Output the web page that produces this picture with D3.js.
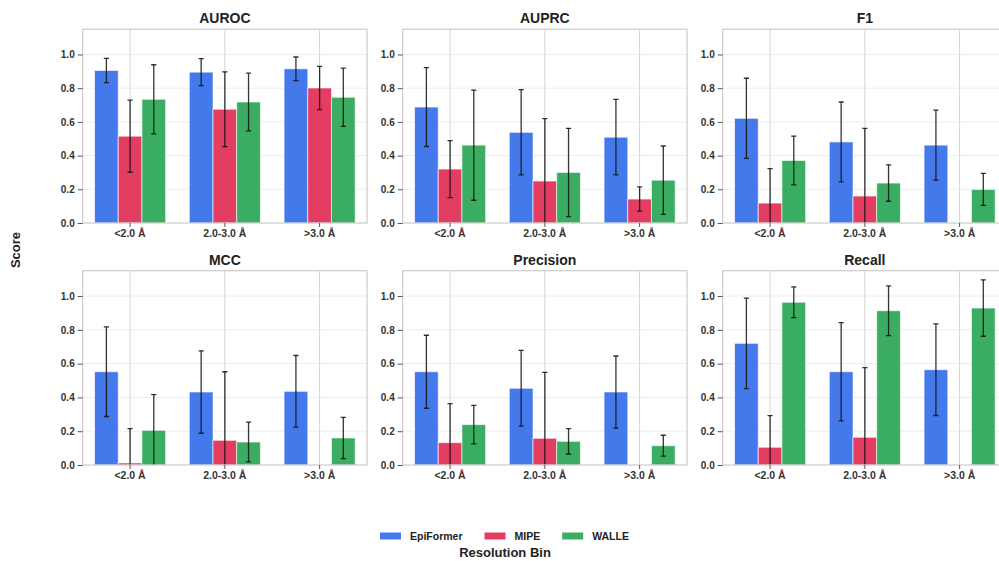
<!DOCTYPE html>
<html>
<head>
<meta charset="utf-8">
<script src="https://cdn.jsdelivr.net/npm/d3@7"></script>
<style>
  html, body { margin: 0; padding: 0; background: #fff; }
  svg { display: block; font-family: "Liberation Sans", Arial, Helvetica, sans-serif; }
</style>
</head>
<body>
<svg id="chart" width="999" height="561"></svg>
<script>
// Resolution bins and models
const bins = ["<2.0 Å", "2.0-3.0 Å", ">3.0 Å"];
const models = ["EpiFormer", "MIPE", "WALLE"];
const modelColors = ["#4479ec", "#e43d62", "#3aad62"];
const yTicks = [0.0, 0.2, 0.4, 0.6, 0.8, 1.0];

// Mean scores per model (rows) and resolution bin (columns), with standard deviations
const aurocMean = [[0.905, 0.895, 0.915], [0.515, 0.675, 0.801], [0.734, 0.718, 0.746]];
const aurocStd  = [[0.072, 0.080, 0.070], [0.214, 0.222, 0.128], [0.205, 0.171, 0.173]];

const auprcMean = [[0.688, 0.538, 0.509], [0.320, 0.249, 0.142], [0.462, 0.300, 0.254]];
const auprcStd  = [[0.234, 0.253, 0.224], [0.169, 0.370, 0.072], [0.327, 0.262, 0.203]];

const f1Mean = [[0.621, 0.481, 0.462], [0.118, 0.160, 0.0], [0.371, 0.237, 0.199]];
const f1Std  = [[0.238, 0.237, 0.208], [0.205, 0.402, 0.0], [0.145, 0.108, 0.095]];

const mccMean = [[0.552, 0.432, 0.436], [0.012, 0.146, 0.0], [0.205, 0.136, 0.160]];
const mccStd  = [[0.265, 0.244, 0.212], [0.203, 0.406, 0.0], [0.211, 0.118, 0.122]];

const precisionMean = [[0.552, 0.454, 0.432], [0.132, 0.158, 0.0], [0.239, 0.140, 0.114]];
const precisionStd  = [[0.216, 0.224, 0.213], [0.231, 0.390, 0.0], [0.114, 0.075, 0.062]];

const recallMean = [[0.720, 0.552, 0.564], [0.105, 0.164, 0.0], [0.963, 0.913, 0.929]];
const recallStd  = [[0.268, 0.291, 0.271], [0.187, 0.412, 0.0], [0.091, 0.147, 0.167]];

const panels = [
  { title: "AUROC", mean: aurocMean, std: aurocStd },
  { title: "AUPRC", mean: auprcMean, std: auprcStd },
  { title: "F1", mean: f1Mean, std: f1Std },
  { title: "MCC", mean: mccMean, std: mccStd },
  { title: "Precision", mean: precisionMean, std: precisionStd },
  { title: "Recall", mean: recallMean, std: recallStd }
];

const svg = d3.select("#chart");

// Panel grid geometry
const panelW = 284.3;
const colLeft = [82.7, 402.7, 722.7];
const rowTop = [29.2, 270.7];
const rowBottom = [223, 465];

const x = d3.scaleBand().domain(bins).range([0, panelW]).padding(0);
const step = x.bandwidth();
const xm = d3.scaleBand().domain(models).range([-0.375 * step, 0.375 * step]).padding(0);

const defs = svg.append("defs");

panels.forEach((p, i) => {
  const col = i % 3, row = Math.floor(i / 3);
  const h = rowBottom[row] - rowTop[row];
  const y = d3.scaleLinear().domain([0, 1.15]).range([h, 0]);

  const g = svg.append("g").attr("transform", `translate(${colLeft[col]},${rowTop[row]})`);

  const clipId = "clip" + i;
  defs.append("clipPath").attr("id", clipId)
    .append("rect").attr("x", 0).attr("y", 0).attr("width", panelW).attr("height", h);

  // horizontal grid
  g.append("g").selectAll("line").data(yTicks.filter(t => t > 0)).join("line")
    .attr("x1", 0).attr("x2", panelW)
    .attr("y1", d => y(d)).attr("y2", d => y(d))
    .attr("stroke", "#ededed").attr("stroke-width", 1);

  // vertical grid at bin centres
  g.append("g").selectAll("line").data(bins).join("line")
    .attr("x1", d => x(d) + step / 2).attr("x2", d => x(d) + step / 2)
    .attr("y1", 0).attr("y2", h)
    .attr("stroke", "#d4d4d4").attr("stroke-width", 1);

  // flatten into records
  const recs = [];
  models.forEach((m, mi) => {
    bins.forEach((b, bi) => {
      recs.push({ model: m, mi, bin: b, v: p.mean[mi][bi], s: p.std[mi][bi] });
    });
  });

  const plot = g.append("g").attr("clip-path", `url(#${clipId})`);

  plot.selectAll("rect.bar").data(recs).join("rect")
    .attr("class", "bar")
    .attr("x", d => x(d.bin) + step / 2 + xm(d.model))
    .attr("width", xm.bandwidth())
    .attr("y", d => y(d.v))
    .attr("height", d => y(0) - y(d.v))
    .attr("fill", d => modelColors[d.mi])
    .attr("stroke", "#ffffff").attr("stroke-opacity", 0.6).attr("stroke-width", 1);

  // error bars
  const eb = plot.selectAll("g.err").data(recs.filter(d => d.s > 0)).join("g")
    .attr("class", "err")
    .attr("stroke", "#111").attr("stroke-opacity", 0.85).attr("stroke-width", 1.3);
  const cx = d => x(d.bin) + step / 2 + xm(d.model) + xm.bandwidth() / 2;
  eb.append("line")
    .attr("x1", cx).attr("x2", cx)
    .attr("y1", d => y(d.v - d.s)).attr("y2", d => y(d.v + d.s));
  eb.append("line")
    .attr("x1", d => cx(d) - 2.6).attr("x2", d => cx(d) + 2.6)
    .attr("y1", d => y(d.v + d.s)).attr("y2", d => y(d.v + d.s));
  eb.append("line")
    .attr("x1", d => cx(d) - 2.6).attr("x2", d => cx(d) + 2.6)
    .attr("y1", d => y(d.v - d.s)).attr("y2", d => y(d.v - d.s));

  // frame
  g.append("rect").attr("x", 0).attr("y", 0).attr("width", panelW).attr("height", h)
    .attr("fill", "none").attr("stroke", "#cccccc").attr("stroke-width", 1.2);

  // axes
  const yAxis = d3.axisLeft(y).tickValues(yTicks).tickFormat(d3.format(".1f"))
    .tickSize(5).tickPadding(3);
  const ya = g.append("g").call(yAxis);
  ya.select(".domain").remove();
  ya.selectAll(".tick line").attr("stroke", "#555").attr("stroke-width", 1);
  ya.selectAll(".tick text").attr("fill", "#333").attr("font-size", "10px")
    .attr("font-weight", "bold").attr("font-family", "'Liberation Sans', Arial, sans-serif");

  const xAxis = d3.axisBottom(x).tickSize(4).tickPadding(3);
  const xa = g.append("g").attr("transform", `translate(0,${h})`).call(xAxis);
  xa.select(".domain").remove();
  xa.selectAll(".tick line").attr("stroke", "#555").attr("stroke-width", 1);
  xa.selectAll(".tick text").attr("fill", "#333").attr("font-size", "10.5px")
    .attr("font-weight", "bold").attr("font-family", "'Liberation Sans', Arial, sans-serif");

  // title
  g.append("text").attr("x", panelW / 2).attr("y", -6)
    .attr("text-anchor", "middle").attr("font-size", "14px").attr("font-weight", "bold")
    .attr("fill", "#222").text(p.title);
});

// shared axis labels
svg.append("text")
  .attr("transform", "translate(20,250) rotate(-90)")
  .attr("text-anchor", "middle").attr("font-size", "13px").attr("font-weight", "bold")
  .attr("fill", "#222").text("Score");

svg.append("text").attr("x", 505).attr("y", 557)
  .attr("text-anchor", "middle").attr("font-size", "13px").attr("font-weight", "bold")
  .attr("fill", "#222").text("Resolution Bin");

// legend
const legend = svg.append("g").attr("transform", "translate(380,536)");
let lx = 0;
models.forEach((m, mi) => {
  const item = legend.append("g").attr("transform", `translate(${lx},0)`);
  item.append("rect").attr("x", 0).attr("y", -3.5).attr("width", 21).attr("height", 7)
    .attr("fill", modelColors[mi]);
  const t = item.append("text").attr("x", 30).attr("y", 4)
    .attr("font-size", "10.5px").attr("font-weight", "bold").attr("fill", "#222").text(m);
  lx += 30 + t.node().getComputedTextLength() + 22;
});
</script>
</body>
</html>
